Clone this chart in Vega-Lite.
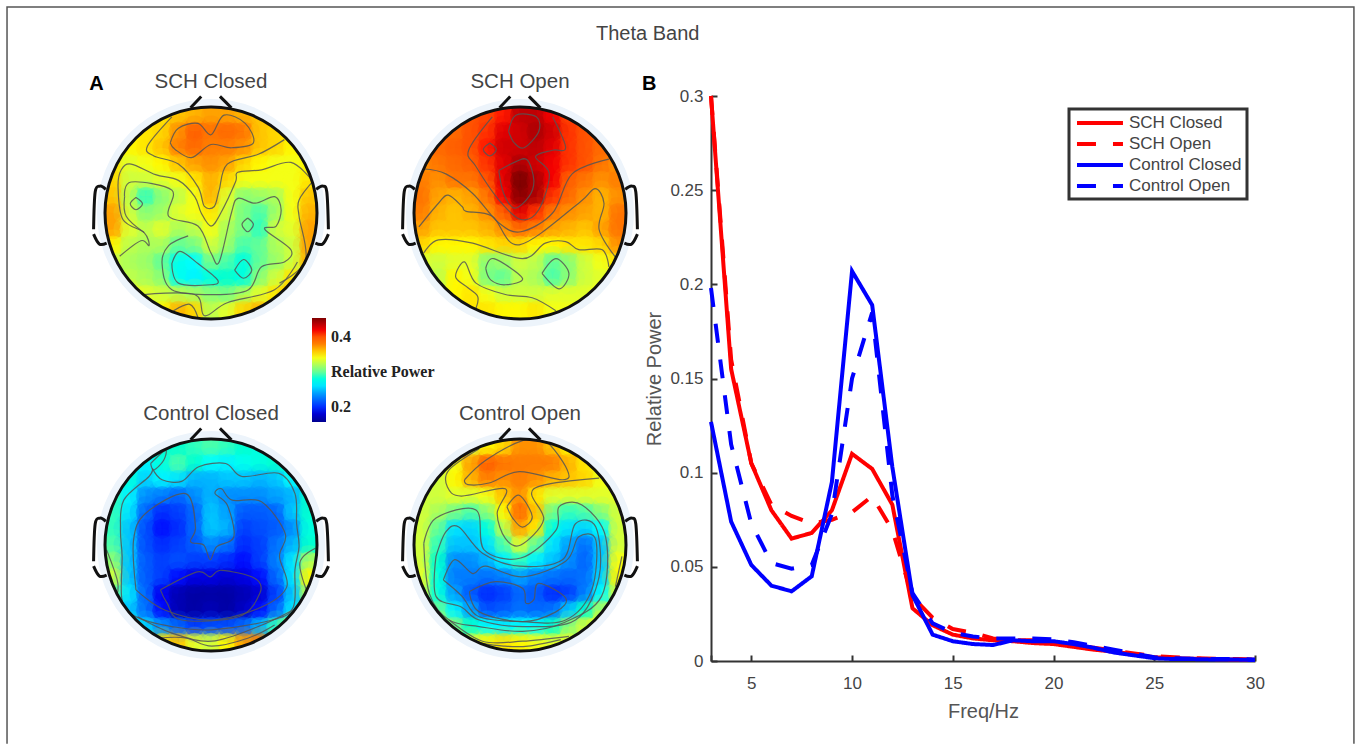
{"$schema":"https://vega.github.io/schema/vega-lite/v6.json","padding":{"left":4,"top":3,"right":0,"bottom":0},"background":"white","config":{"view":{"stroke":null},"font":"Liberation Sans","legend":{"strokeWidth":3}},
"title":{"text":"Theta Band","anchor":"start","frame":"group","fontSize":20,"fontWeight":"normal","color":"#444","dx":491,"offset":-40},
"datasets":{
"a":[{"x":-3,"y":6,"v":0.35},{"x":-2,"y":6,"v":0.36},{"x":-1,"y":6,"v":0.365},{"x":0,"y":6,"v":0.37},{"x":1,"y":6,"v":0.37},{"x":2,"y":6,"v":0.365},{"x":3,"y":6,"v":0.36},
{"x":-5,"y":5,"v":0.345},{"x":-4,"y":5,"v":0.35},{"x":-3,"y":5,"v":0.355},{"x":-2,"y":5,"v":0.375},{"x":-1,"y":5,"v":0.395},{"x":0,"y":5,"v":0.385},{"x":1,"y":5,"v":0.39},{"x":2,"y":5,"v":0.385},{"x":3,"y":5,"v":0.36},{"x":4,"y":5,"v":0.355},{"x":5,"y":5,"v":0.35},
{"x":-5,"y":4,"v":0.345},{"x":-4,"y":4,"v":0.35},{"x":-3,"y":4,"v":0.36},{"x":-2,"y":4,"v":0.38},{"x":-1,"y":4,"v":0.39},{"x":0,"y":4,"v":0.38},{"x":1,"y":4,"v":0.38},{"x":2,"y":4,"v":0.375},{"x":3,"y":4,"v":0.36},{"x":4,"y":4,"v":0.355},{"x":5,"y":4,"v":0.345},
{"x":-6,"y":3,"v":0.35},{"x":-5,"y":3,"v":0.335},{"x":-4,"y":3,"v":0.34},{"x":-3,"y":3,"v":0.345},{"x":-2,"y":3,"v":0.36},{"x":-1,"y":3,"v":0.37},{"x":0,"y":3,"v":0.375},{"x":1,"y":3,"v":0.37},{"x":2,"y":3,"v":0.355},{"x":3,"y":3,"v":0.345},{"x":4,"y":3,"v":0.34},{"x":5,"y":3,"v":0.34},{"x":6,"y":3,"v":0.345},
{"x":-6,"y":2,"v":0.355},{"x":-5,"y":2,"v":0.33},{"x":-4,"y":2,"v":0.33},{"x":-3,"y":2,"v":0.335},{"x":-2,"y":2,"v":0.34},{"x":-1,"y":2,"v":0.35},{"x":0,"y":2,"v":0.365},{"x":1,"y":2,"v":0.355},{"x":2,"y":2,"v":0.34},{"x":3,"y":2,"v":0.34},{"x":4,"y":2,"v":0.34},{"x":5,"y":2,"v":0.34},{"x":6,"y":2,"v":0.35},
{"x":-6,"y":1,"v":0.36},{"x":-5,"y":1,"v":0.325},{"x":-4,"y":1,"v":0.29},{"x":-3,"y":1,"v":0.31},{"x":-2,"y":1,"v":0.325},{"x":-1,"y":1,"v":0.34},{"x":0,"y":1,"v":0.365},{"x":1,"y":1,"v":0.335},{"x":2,"y":1,"v":0.31},{"x":3,"y":1,"v":0.315},{"x":4,"y":1,"v":0.32},{"x":5,"y":1,"v":0.34},{"x":6,"y":1,"v":0.36},
{"x":-6,"y":0,"v":0.37},{"x":-5,"y":0,"v":0.33},{"x":-4,"y":0,"v":0.31},{"x":-3,"y":0,"v":0.315},{"x":-2,"y":0,"v":0.335},{"x":-1,"y":0,"v":0.34},{"x":0,"y":0,"v":0.35},{"x":1,"y":0,"v":0.33},{"x":2,"y":0,"v":0.305},{"x":3,"y":0,"v":0.295},{"x":4,"y":0,"v":0.315},{"x":5,"y":0,"v":0.34},{"x":6,"y":0,"v":0.365},
{"x":-6,"y":-1,"v":0.37},{"x":-5,"y":-1,"v":0.335},{"x":-4,"y":-1,"v":0.325},{"x":-3,"y":-1,"v":0.335},{"x":-2,"y":-1,"v":0.32},{"x":-1,"y":-1,"v":0.325},{"x":0,"y":-1,"v":0.34},{"x":1,"y":-1,"v":0.32},{"x":2,"y":-1,"v":0.305},{"x":3,"y":-1,"v":0.29},{"x":4,"y":-1,"v":0.33},{"x":5,"y":-1,"v":0.335},{"x":6,"y":-1,"v":0.37},
{"x":-6,"y":-2,"v":0.345},{"x":-5,"y":-2,"v":0.325},{"x":-4,"y":-2,"v":0.32},{"x":-3,"y":-2,"v":0.32},{"x":-2,"y":-2,"v":0.3},{"x":-1,"y":-2,"v":0.305},{"x":0,"y":-2,"v":0.33},{"x":1,"y":-2,"v":0.315},{"x":2,"y":-2,"v":0.295},{"x":3,"y":-2,"v":0.3},{"x":4,"y":-2,"v":0.32},{"x":5,"y":-2,"v":0.33},{"x":6,"y":-2,"v":0.37},
{"x":-6,"y":-3,"v":0.33},{"x":-5,"y":-3,"v":0.32},{"x":-4,"y":-3,"v":0.315},{"x":-3,"y":-3,"v":0.3},{"x":-2,"y":-3,"v":0.275},{"x":-1,"y":-3,"v":0.27},{"x":0,"y":-3,"v":0.305},{"x":1,"y":-3,"v":0.295},{"x":2,"y":-3,"v":0.28},{"x":3,"y":-3,"v":0.3},{"x":4,"y":-3,"v":0.315},{"x":5,"y":-3,"v":0.33},{"x":6,"y":-3,"v":0.365},
{"x":-5,"y":-4,"v":0.325},{"x":-4,"y":-4,"v":0.32},{"x":-3,"y":-4,"v":0.31},{"x":-2,"y":-4,"v":0.275},{"x":-1,"y":-4,"v":0.265},{"x":0,"y":-4,"v":0.28},{"x":1,"y":-4,"v":0.285},{"x":2,"y":-4,"v":0.28},{"x":3,"y":-4,"v":0.31},{"x":4,"y":-4,"v":0.33},{"x":5,"y":-4,"v":0.35},
{"x":-5,"y":-5,"v":0.345},{"x":-4,"y":-5,"v":0.335},{"x":-3,"y":-5,"v":0.33},{"x":-2,"y":-5,"v":0.325},{"x":-1,"y":-5,"v":0.32},{"x":0,"y":-5,"v":0.31},{"x":1,"y":-5,"v":0.305},{"x":2,"y":-5,"v":0.32},{"x":3,"y":-5,"v":0.335},{"x":4,"y":-5,"v":0.35},{"x":5,"y":-5,"v":0.37},
{"x":-3,"y":-6,"v":0.345},{"x":-2,"y":-6,"v":0.365},{"x":-1,"y":-6,"v":0.355},{"x":0,"y":-6,"v":0.325},{"x":1,"y":-6,"v":0.335},{"x":2,"y":-6,"v":0.355},{"x":3,"y":-6,"v":0.365}],
"b":[{"x":-3,"y":6,"v":0.4},{"x":-2,"y":6,"v":0.405},{"x":-1,"y":6,"v":0.415},{"x":0,"y":6,"v":0.435},{"x":1,"y":6,"v":0.435},{"x":2,"y":6,"v":0.42},{"x":3,"y":6,"v":0.405},
{"x":-5,"y":5,"v":0.385},{"x":-4,"y":5,"v":0.39},{"x":-3,"y":5,"v":0.4},{"x":-2,"y":5,"v":0.41},{"x":-1,"y":5,"v":0.425},{"x":0,"y":5,"v":0.43},{"x":1,"y":5,"v":0.44},{"x":2,"y":5,"v":0.43},{"x":3,"y":5,"v":0.41},{"x":4,"y":5,"v":0.4},{"x":5,"y":5,"v":0.39},
{"x":-5,"y":4,"v":0.39},{"x":-4,"y":4,"v":0.395},{"x":-3,"y":4,"v":0.4},{"x":-2,"y":4,"v":0.415},{"x":-1,"y":4,"v":0.43},{"x":0,"y":4,"v":0.43},{"x":1,"y":4,"v":0.435},{"x":2,"y":4,"v":0.425},{"x":3,"y":4,"v":0.41},{"x":4,"y":4,"v":0.4},{"x":5,"y":4,"v":0.39},
{"x":-6,"y":3,"v":0.375},{"x":-5,"y":3,"v":0.385},{"x":-4,"y":3,"v":0.39},{"x":-3,"y":3,"v":0.395},{"x":-2,"y":3,"v":0.41},{"x":-1,"y":3,"v":0.425},{"x":0,"y":3,"v":0.44},{"x":1,"y":3,"v":0.43},{"x":2,"y":3,"v":0.42},{"x":3,"y":3,"v":0.41},{"x":4,"y":3,"v":0.4},{"x":5,"y":3,"v":0.385},{"x":6,"y":3,"v":0.375},
{"x":-6,"y":2,"v":0.38},{"x":-5,"y":2,"v":0.375},{"x":-4,"y":2,"v":0.385},{"x":-3,"y":2,"v":0.385},{"x":-2,"y":2,"v":0.4},{"x":-1,"y":2,"v":0.425},{"x":0,"y":2,"v":0.455},{"x":1,"y":2,"v":0.44},{"x":2,"y":2,"v":0.42},{"x":3,"y":2,"v":0.395},{"x":4,"y":2,"v":0.385},{"x":5,"y":2,"v":0.375},{"x":6,"y":2,"v":0.38},
{"x":-6,"y":1,"v":0.385},{"x":-5,"y":1,"v":0.37},{"x":-4,"y":1,"v":0.365},{"x":-3,"y":1,"v":0.37},{"x":-2,"y":1,"v":0.385},{"x":-1,"y":1,"v":0.42},{"x":0,"y":1,"v":0.45},{"x":1,"y":1,"v":0.44},{"x":2,"y":1,"v":0.41},{"x":3,"y":1,"v":0.39},{"x":4,"y":1,"v":0.375},{"x":5,"y":1,"v":0.365},{"x":6,"y":1,"v":0.375},
{"x":-6,"y":0,"v":0.38},{"x":-5,"y":0,"v":0.365},{"x":-4,"y":0,"v":0.36},{"x":-3,"y":0,"v":0.365},{"x":-2,"y":0,"v":0.375},{"x":-1,"y":0,"v":0.395},{"x":0,"y":0,"v":0.425},{"x":1,"y":0,"v":0.41},{"x":2,"y":0,"v":0.385},{"x":3,"y":0,"v":0.375},{"x":4,"y":0,"v":0.37},{"x":5,"y":0,"v":0.365},{"x":6,"y":0,"v":0.385},
{"x":-6,"y":-1,"v":0.37},{"x":-5,"y":-1,"v":0.36},{"x":-4,"y":-1,"v":0.36},{"x":-3,"y":-1,"v":0.36},{"x":-2,"y":-1,"v":0.365},{"x":-1,"y":-1,"v":0.375},{"x":0,"y":-1,"v":0.39},{"x":1,"y":-1,"v":0.38},{"x":2,"y":-1,"v":0.37},{"x":3,"y":-1,"v":0.365},{"x":4,"y":-1,"v":0.36},{"x":5,"y":-1,"v":0.37},{"x":6,"y":-1,"v":0.385},
{"x":-6,"y":-2,"v":0.355},{"x":-5,"y":-2,"v":0.345},{"x":-4,"y":-2,"v":0.345},{"x":-3,"y":-2,"v":0.345},{"x":-2,"y":-2,"v":0.35},{"x":-1,"y":-2,"v":0.355},{"x":0,"y":-2,"v":0.355},{"x":1,"y":-2,"v":0.345},{"x":2,"y":-2,"v":0.345},{"x":3,"y":-2,"v":0.35},{"x":4,"y":-2,"v":0.35},{"x":5,"y":-2,"v":0.355},{"x":6,"y":-2,"v":0.375},
{"x":-6,"y":-3,"v":0.335},{"x":-5,"y":-3,"v":0.33},{"x":-4,"y":-3,"v":0.335},{"x":-3,"y":-3,"v":0.335},{"x":-2,"y":-3,"v":0.31},{"x":-1,"y":-3,"v":0.315},{"x":0,"y":-3,"v":0.33},{"x":1,"y":-3,"v":0.325},{"x":2,"y":-3,"v":0.3},{"x":3,"y":-3,"v":0.31},{"x":4,"y":-3,"v":0.33},{"x":5,"y":-3,"v":0.34},{"x":6,"y":-3,"v":0.35},
{"x":-5,"y":-4,"v":0.325},{"x":-4,"y":-4,"v":0.345},{"x":-3,"y":-4,"v":0.34},{"x":-2,"y":-4,"v":0.305},{"x":-1,"y":-4,"v":0.3},{"x":0,"y":-4,"v":0.325},{"x":1,"y":-4,"v":0.32},{"x":2,"y":-4,"v":0.295},{"x":3,"y":-4,"v":0.31},{"x":4,"y":-4,"v":0.33},{"x":5,"y":-4,"v":0.335},
{"x":-5,"y":-5,"v":0.335},{"x":-4,"y":-5,"v":0.345},{"x":-3,"y":-5,"v":0.35},{"x":-2,"y":-5,"v":0.34},{"x":-1,"y":-5,"v":0.33},{"x":0,"y":-5,"v":0.33},{"x":1,"y":-5,"v":0.33},{"x":2,"y":-5,"v":0.335},{"x":3,"y":-5,"v":0.335},{"x":4,"y":-5,"v":0.335},{"x":5,"y":-5,"v":0.34},
{"x":-3,"y":-6,"v":0.35},{"x":-2,"y":-6,"v":0.35},{"x":-1,"y":-6,"v":0.345},{"x":0,"y":-6,"v":0.345},{"x":1,"y":-6,"v":0.35},{"x":2,"y":-6,"v":0.34},{"x":3,"y":-6,"v":0.34}],
"c":[{"x":-3,"y":6,"v":0.285},{"x":-2,"y":6,"v":0.285},{"x":-1,"y":6,"v":0.29},{"x":0,"y":6,"v":0.295},{"x":1,"y":6,"v":0.29},{"x":2,"y":6,"v":0.285},{"x":3,"y":6,"v":0.28},
{"x":-5,"y":5,"v":0.275},{"x":-4,"y":5,"v":0.265},{"x":-3,"y":5,"v":0.28},{"x":-2,"y":5,"v":0.295},{"x":-1,"y":5,"v":0.285},{"x":0,"y":5,"v":0.27},{"x":1,"y":5,"v":0.265},{"x":2,"y":5,"v":0.275},{"x":3,"y":5,"v":0.28},{"x":4,"y":5,"v":0.285},{"x":5,"y":5,"v":0.29},
{"x":-5,"y":4,"v":0.28},{"x":-4,"y":4,"v":0.255},{"x":-3,"y":4,"v":0.265},{"x":-2,"y":4,"v":0.26},{"x":-1,"y":4,"v":0.245},{"x":0,"y":4,"v":0.245},{"x":1,"y":4,"v":0.25},{"x":2,"y":4,"v":0.25},{"x":3,"y":4,"v":0.245},{"x":4,"y":4,"v":0.25},{"x":5,"y":4,"v":0.27},
{"x":-6,"y":3,"v":0.29},{"x":-5,"y":3,"v":0.265},{"x":-4,"y":3,"v":0.235},{"x":-3,"y":3,"v":0.23},{"x":-2,"y":3,"v":0.22},{"x":-1,"y":3,"v":0.235},{"x":0,"y":3,"v":0.245},{"x":1,"y":3,"v":0.235},{"x":2,"y":3,"v":0.235},{"x":3,"y":3,"v":0.235},{"x":4,"y":3,"v":0.24},{"x":5,"y":3,"v":0.245},{"x":6,"y":3,"v":0.285},
{"x":-6,"y":2,"v":0.29},{"x":-5,"y":2,"v":0.26},{"x":-4,"y":2,"v":0.22},{"x":-3,"y":2,"v":0.2},{"x":-2,"y":2,"v":0.205},{"x":-1,"y":2,"v":0.22},{"x":0,"y":2,"v":0.25},{"x":1,"y":2,"v":0.24},{"x":2,"y":2,"v":0.215},{"x":3,"y":2,"v":0.215},{"x":4,"y":2,"v":0.22},{"x":5,"y":2,"v":0.25},{"x":6,"y":2,"v":0.285},
{"x":-6,"y":1,"v":0.29},{"x":-5,"y":1,"v":0.25},{"x":-4,"y":1,"v":0.21},{"x":-3,"y":1,"v":0.195},{"x":-2,"y":1,"v":0.2},{"x":-1,"y":1,"v":0.22},{"x":0,"y":1,"v":0.25},{"x":1,"y":1,"v":0.245},{"x":2,"y":1,"v":0.205},{"x":3,"y":1,"v":0.21},{"x":4,"y":1,"v":0.215},{"x":5,"y":1,"v":0.235},{"x":6,"y":1,"v":0.28},
{"x":-6,"y":0,"v":0.295},{"x":-5,"y":0,"v":0.25},{"x":-4,"y":0,"v":0.21},{"x":-3,"y":0,"v":0.2},{"x":-2,"y":0,"v":0.205},{"x":-1,"y":0,"v":0.215},{"x":0,"y":0,"v":0.235},{"x":1,"y":0,"v":0.225},{"x":2,"y":0,"v":0.2},{"x":3,"y":0,"v":0.205},{"x":4,"y":0,"v":0.225},{"x":5,"y":0,"v":0.245},{"x":6,"y":0,"v":0.285},
{"x":-6,"y":-1,"v":0.31},{"x":-5,"y":-1,"v":0.25},{"x":-4,"y":-1,"v":0.215},{"x":-3,"y":-1,"v":0.205},{"x":-2,"y":-1,"v":0.21},{"x":-1,"y":-1,"v":0.205},{"x":0,"y":-1,"v":0.205},{"x":1,"y":-1,"v":0.2},{"x":2,"y":-1,"v":0.195},{"x":3,"y":-1,"v":0.205},{"x":4,"y":-1,"v":0.23},{"x":5,"y":-1,"v":0.26},{"x":6,"y":-1,"v":0.32},
{"x":-6,"y":-2,"v":0.33},{"x":-5,"y":-2,"v":0.25},{"x":-4,"y":-2,"v":0.215},{"x":-3,"y":-2,"v":0.205},{"x":-2,"y":-2,"v":0.195},{"x":-1,"y":-2,"v":0.185},{"x":0,"y":-2,"v":0.185},{"x":1,"y":-2,"v":0.18},{"x":2,"y":-2,"v":0.185},{"x":3,"y":-2,"v":0.195},{"x":4,"y":-2,"v":0.22},{"x":5,"y":-2,"v":0.26},{"x":6,"y":-2,"v":0.345},
{"x":-6,"y":-3,"v":0.3},{"x":-5,"y":-3,"v":0.26},{"x":-4,"y":-3,"v":0.22},{"x":-3,"y":-3,"v":0.19},{"x":-2,"y":-3,"v":0.17},{"x":-1,"y":-3,"v":0.165},{"x":0,"y":-3,"v":0.165},{"x":1,"y":-3,"v":0.165},{"x":2,"y":-3,"v":0.17},{"x":3,"y":-3,"v":0.18},{"x":4,"y":-3,"v":0.205},{"x":5,"y":-3,"v":0.25},{"x":6,"y":-3,"v":0.32},
{"x":-5,"y":-4,"v":0.25},{"x":-4,"y":-4,"v":0.225},{"x":-3,"y":-4,"v":0.195},{"x":-2,"y":-4,"v":0.17},{"x":-1,"y":-4,"v":0.165},{"x":0,"y":-4,"v":0.17},{"x":1,"y":-4,"v":0.165},{"x":2,"y":-4,"v":0.175},{"x":3,"y":-4,"v":0.195},{"x":4,"y":-4,"v":0.22},{"x":5,"y":-4,"v":0.26},
{"x":-5,"y":-5,"v":0.28},{"x":-4,"y":-5,"v":0.255},{"x":-3,"y":-5,"v":0.235},{"x":-2,"y":-5,"v":0.22},{"x":-1,"y":-5,"v":0.205},{"x":0,"y":-5,"v":0.21},{"x":1,"y":-5,"v":0.21},{"x":2,"y":-5,"v":0.22},{"x":3,"y":-5,"v":0.245},{"x":4,"y":-5,"v":0.29},{"x":5,"y":-5,"v":0.33},
{"x":-3,"y":-6,"v":0.35},{"x":-2,"y":-6,"v":0.36},{"x":-1,"y":-6,"v":0.335},{"x":0,"y":-6,"v":0.33},{"x":1,"y":-6,"v":0.345},{"x":2,"y":-6,"v":0.37},{"x":3,"y":-6,"v":0.38}],
"d":[{"x":-3,"y":6,"v":0.335},{"x":-2,"y":6,"v":0.345},{"x":-1,"y":6,"v":0.355},{"x":0,"y":6,"v":0.375},{"x":1,"y":6,"v":0.375},{"x":2,"y":6,"v":0.36},{"x":3,"y":6,"v":0.345},
{"x":-5,"y":5,"v":0.33},{"x":-4,"y":5,"v":0.34},{"x":-3,"y":5,"v":0.37},{"x":-2,"y":5,"v":0.395},{"x":-1,"y":5,"v":0.385},{"x":0,"y":5,"v":0.38},{"x":1,"y":5,"v":0.38},{"x":2,"y":5,"v":0.38},{"x":3,"y":5,"v":0.365},{"x":4,"y":5,"v":0.35},{"x":5,"y":5,"v":0.335},
{"x":-5,"y":4,"v":0.33},{"x":-4,"y":4,"v":0.345},{"x":-3,"y":4,"v":0.365},{"x":-2,"y":4,"v":0.38},{"x":-1,"y":4,"v":0.375},{"x":0,"y":4,"v":0.38},{"x":1,"y":4,"v":0.375},{"x":2,"y":4,"v":0.365},{"x":3,"y":4,"v":0.36},{"x":4,"y":4,"v":0.355},{"x":5,"y":4,"v":0.34},
{"x":-6,"y":3,"v":0.33},{"x":-5,"y":3,"v":0.33},{"x":-4,"y":3,"v":0.335},{"x":-3,"y":3,"v":0.335},{"x":-2,"y":3,"v":0.34},{"x":-1,"y":3,"v":0.36},{"x":0,"y":3,"v":0.375},{"x":1,"y":3,"v":0.35},{"x":2,"y":3,"v":0.335},{"x":3,"y":3,"v":0.335},{"x":4,"y":3,"v":0.335},{"x":5,"y":3,"v":0.335},{"x":6,"y":3,"v":0.335},
{"x":-6,"y":2,"v":0.33},{"x":-5,"y":2,"v":0.32},{"x":-4,"y":2,"v":0.305},{"x":-3,"y":2,"v":0.295},{"x":-2,"y":2,"v":0.31},{"x":-1,"y":2,"v":0.345},{"x":0,"y":2,"v":0.39},{"x":1,"y":2,"v":0.36},{"x":2,"y":2,"v":0.305},{"x":3,"y":2,"v":0.29},{"x":4,"y":2,"v":0.295},{"x":5,"y":2,"v":0.31},{"x":6,"y":2,"v":0.33},
{"x":-6,"y":1,"v":0.33},{"x":-5,"y":1,"v":0.3},{"x":-4,"y":1,"v":0.26},{"x":-3,"y":1,"v":0.255},{"x":-2,"y":1,"v":0.28},{"x":-1,"y":1,"v":0.325},{"x":0,"y":1,"v":0.37},{"x":1,"y":1,"v":0.35},{"x":2,"y":1,"v":0.28},{"x":3,"y":1,"v":0.26},{"x":4,"y":1,"v":0.255},{"x":5,"y":1,"v":0.27},{"x":6,"y":1,"v":0.33},
{"x":-6,"y":0,"v":0.33},{"x":-5,"y":0,"v":0.29},{"x":-4,"y":0,"v":0.25},{"x":-3,"y":0,"v":0.25},{"x":-2,"y":0,"v":0.26},{"x":-1,"y":0,"v":0.295},{"x":0,"y":0,"v":0.335},{"x":1,"y":0,"v":0.3},{"x":2,"y":0,"v":0.26},{"x":3,"y":0,"v":0.24},{"x":4,"y":0,"v":0.225},{"x":5,"y":0,"v":0.25},{"x":6,"y":0,"v":0.33},
{"x":-6,"y":-1,"v":0.33},{"x":-5,"y":-1,"v":0.285},{"x":-4,"y":-1,"v":0.235},{"x":-3,"y":-1,"v":0.235},{"x":-2,"y":-1,"v":0.245},{"x":-1,"y":-1,"v":0.265},{"x":0,"y":-1,"v":0.29},{"x":1,"y":-1,"v":0.265},{"x":2,"y":-1,"v":0.25},{"x":3,"y":-1,"v":0.235},{"x":4,"y":-1,"v":0.22},{"x":5,"y":-1,"v":0.25},{"x":6,"y":-1,"v":0.34},
{"x":-6,"y":-2,"v":0.335},{"x":-5,"y":-2,"v":0.28},{"x":-4,"y":-2,"v":0.23},{"x":-3,"y":-2,"v":0.23},{"x":-2,"y":-2,"v":0.225},{"x":-1,"y":-2,"v":0.23},{"x":0,"y":-2,"v":0.24},{"x":1,"y":-2,"v":0.23},{"x":2,"y":-2,"v":0.225},{"x":3,"y":-2,"v":0.22},{"x":4,"y":-2,"v":0.225},{"x":5,"y":-2,"v":0.255},{"x":6,"y":-2,"v":0.345},
{"x":-6,"y":-3,"v":0.33},{"x":-5,"y":-3,"v":0.28},{"x":-4,"y":-3,"v":0.24},{"x":-3,"y":-3,"v":0.215},{"x":-2,"y":-3,"v":0.2},{"x":-1,"y":-3,"v":0.205},{"x":0,"y":-3,"v":0.22},{"x":1,"y":-3,"v":0.215},{"x":2,"y":-3,"v":0.2},{"x":3,"y":-3,"v":0.205},{"x":4,"y":-3,"v":0.23},{"x":5,"y":-3,"v":0.27},{"x":6,"y":-3,"v":0.33},
{"x":-5,"y":-4,"v":0.3},{"x":-4,"y":-4,"v":0.265},{"x":-3,"y":-4,"v":0.24},{"x":-2,"y":-4,"v":0.21},{"x":-1,"y":-4,"v":0.215},{"x":0,"y":-4,"v":0.225},{"x":1,"y":-4,"v":0.22},{"x":2,"y":-4,"v":0.225},{"x":3,"y":-4,"v":0.25},{"x":4,"y":-4,"v":0.285},{"x":5,"y":-4,"v":0.32},
{"x":-5,"y":-5,"v":0.33},{"x":-4,"y":-5,"v":0.305},{"x":-3,"y":-5,"v":0.285},{"x":-2,"y":-5,"v":0.27},{"x":-1,"y":-5,"v":0.265},{"x":0,"y":-5,"v":0.27},{"x":1,"y":-5,"v":0.27},{"x":2,"y":-5,"v":0.285},{"x":3,"y":-5,"v":0.31},{"x":4,"y":-5,"v":0.33},{"x":5,"y":-5,"v":0.345},
{"x":-3,"y":-6,"v":0.335},{"x":-2,"y":-6,"v":0.345},{"x":-1,"y":-6,"v":0.35},{"x":0,"y":-6,"v":0.345},{"x":1,"y":-6,"v":0.34},{"x":2,"y":-6,"v":0.335},{"x":3,"y":-6,"v":0.335}],
"ca":[{"c":1,"x":-2.5,"y":4.3},{"c":1,"x":-2,"y":5.2},{"c":1,"x":-0.8,"y":5.5},{"c":1,"x":0,"y":4.8},{"c":1,"x":0.8,"y":6},{"c":1,"x":2.1,"y":5.5},{"c":1,"x":2.6,"y":4.3},{"c":1,"x":1.25,"y":4},{"c":1,"x":0,"y":4.2},{"c":1,"x":-1.2,"y":3.4},{"c":1,"x":-2.2,"y":3.9},{"c":1,"x":-2.5,"y":4.3},
{"c":2,"x":-2.4,"y":5.9},{"c":2,"x":-3.9,"y":4.1},{"c":2,"x":-3.5,"y":3.5},{"c":2,"x":-2,"y":3},{"c":2,"x":-0.8,"y":1.6},{"c":2,"x":-0.4,"y":0.4},{"c":2,"x":0.2,"y":0.4},{"c":2,"x":0.5,"y":1.4},{"c":2,"x":1,"y":3},{"c":2,"x":2.9,"y":3.6},{"c":2,"x":4.5,"y":4.5},
{"c":3,"x":-5.6,"y":-2.65},{"c":3,"x":-4.3,"y":-1.7},{"c":3,"x":-3.8,"y":-2},{"c":3,"x":-4.1,"y":-1.2},{"c":3,"x":-5.4,"y":-0.4},{"c":3,"x":-5.7,"y":1.6},{"c":3,"x":-5.5,"y":2.65},{"c":3,"x":-4.9,"y":3},{"c":3,"x":-3.4,"y":2.35},{"c":3,"x":-2,"y":2},{"c":3,"x":-1,"y":1},{"c":3,"x":-0.6,"y":0},{"c":3,"x":0,"y":-0.8},{"c":3,"x":0.6,"y":0},{"c":3,"x":1.5,"y":1.9},{"c":3,"x":1.65,"y":2.5},{"c":3,"x":3.1,"y":2.65},{"c":3,"x":4.9,"y":3.1},{"c":3,"x":6.2,"y":2},
{"c":4,"x":-5.3,"y":1},{"c":4,"x":-4.9,"y":1.9},{"c":4,"x":-2.4,"y":1.4},{"c":4,"x":-2.6,"y":-0.2},{"c":4,"x":-0.8,"y":-0.8},{"c":4,"x":0,"y":-2.45},{"c":4,"x":0.5,"y":-3},{"c":4,"x":1.25,"y":0},{"c":4,"x":1.65,"y":0.9},{"c":4,"x":2.7,"y":0.6},{"c":4,"x":3.9,"y":1},{"c":4,"x":4.3,"y":0.2},{"c":4,"x":4,"y":-0.8},{"c":4,"x":3.3,"y":-1},{"c":4,"x":4.9,"y":-2.25},{"c":4,"x":4.5,"y":-3},{"c":4,"x":3.1,"y":-3.3},{"c":4,"x":2.3,"y":-4.7},{"c":4,"x":0.2,"y":-5},{"c":4,"x":-2.4,"y":-4.7},{"c":4,"x":-3,"y":-3.1},{"c":4,"x":-2.6,"y":-2},{"c":4,"x":-1.4,"y":-1.4},
{"c":5,"x":-5.3,"y":1},{"c":5,"x":-5.2,"y":-0.2},{"c":5,"x":-4.1,"y":-1.2},
{"c":6,"x":-2.4,"y":-3.1},{"c":6,"x":-1.9,"y":-2.35},{"c":6,"x":-0.8,"y":-3.1},{"c":6,"x":0.4,"y":-4.1},{"c":6,"x":0,"y":-4.4},{"c":6,"x":-2,"y":-4.3},{"c":6,"x":-2.4,"y":-3.1},
{"c":7,"x":1.45,"y":-3.5},{"c":7,"x":2,"y":-2.85},{"c":7,"x":2.5,"y":-3.5},{"c":7,"x":2,"y":-4},{"c":7,"x":1.45,"y":-3.5},
{"c":8,"x":-4.6,"y":0.95},{"c":8,"x":-4.2,"y":0.57},{"c":8,"x":-4.6,"y":0.2},{"c":8,"x":-4.95,"y":0.57},{"c":8,"x":-4.6,"y":0.95},
{"c":9,"x":2.25,"y":-0.3},{"c":9,"x":2.6,"y":-0.7},{"c":9,"x":2.25,"y":-1.15},{"c":9,"x":1.9,"y":-0.7},{"c":9,"x":2.25,"y":-0.3},
{"c":10,"x":4.2,"y":-4.3},{"c":10,"x":5.8,"y":-2.9},{"c":10,"x":5.4,"y":-0.2},{"c":10,"x":5.4,"y":0.8},{"c":10,"x":6.3,"y":2},
{"c":11,"x":-4.1,"y":-5},{"c":11,"x":-1,"y":-5},{"c":11,"x":-0.4,"y":-6.3},{"c":11,"x":1,"y":-5.5},{"c":11,"x":3.9,"y":-4.7},{"c":11,"x":5.3,"y":-3},
{"c":12,"x":-2.3,"y":-6},{"c":12,"x":-1.3,"y":-5.6},{"c":12,"x":-0.8,"y":-6.4}],
"cb":[{"c":1,"x":-0.7,"y":5},{"c":1,"x":-0.25,"y":6},{"c":1,"x":1,"y":5.9},{"c":1,"x":1.15,"y":5},{"c":1,"x":0.25,"y":4},{"c":1,"x":-0.35,"y":4.3},{"c":1,"x":-0.7,"y":5},
{"c":2,"x":-1.3,"y":2.6},{"c":2,"x":-0.25,"y":3.15},{"c":2,"x":0.45,"y":3.25},{"c":2,"x":0.85,"y":2},{"c":2,"x":0.55,"y":1},{"c":2,"x":-0.35,"y":0.3},{"c":2,"x":-1,"y":1.2},{"c":2,"x":-1.3,"y":2.6},
{"c":3,"x":-1.85,"y":4.3},{"c":3,"x":-1.45,"y":3.9},{"c":3,"x":-1.85,"y":3.5},{"c":3,"x":-2.25,"y":3.9},{"c":3,"x":-1.85,"y":4.3},
{"c":4,"x":-1.7,"y":5.9},{"c":4,"x":-3.15,"y":3.85},{"c":4,"x":-2.7,"y":2.85},{"c":4,"x":-1.3,"y":0.8},{"c":4,"x":0.05,"y":-0.4},{"c":4,"x":1.15,"y":0.2},{"c":4,"x":1.8,"y":2.4},{"c":4,"x":0.95,"y":3.45},{"c":4,"x":2,"y":3.85},{"c":4,"x":2.8,"y":4},{"c":4,"x":2,"y":5.9},
{"c":5,"x":-5.9,"y":2.7},{"c":5,"x":-4.55,"y":2.4},{"c":5,"x":-2.9,"y":1.2},{"c":5,"x":-1.3,"y":-0.6},{"c":5,"x":0.05,"y":-1.15},{"c":5,"x":2,"y":0},{"c":5,"x":3.2,"y":2.4},{"c":5,"x":5.45,"y":3.3},
{"c":6,"x":-6.2,"y":-0.85},{"c":6,"x":-5,"y":0.6},{"c":6,"x":-4.4,"y":1.1},{"c":6,"x":-3.55,"y":0.4},{"c":6,"x":-3.3,"y":0.1},{"c":6,"x":-1.7,"y":-0.2},{"c":6,"x":-0.05,"y":-1.95},{"c":6,"x":3.6,"y":0.6},{"c":6,"x":4.6,"y":1.5},{"c":6,"x":5.15,"y":0.6},{"c":6,"x":4.85,"y":-1},{"c":6,"x":5.85,"y":-2.7},
{"c":7,"x":-5.9,"y":-2.45},{"c":7,"x":-5,"y":-1.65},{"c":7,"x":-2.9,"y":-1.85},{"c":7,"x":0.15,"y":-2.8},{"c":7,"x":1.55,"y":-1.85},{"c":7,"x":2.8,"y":-1.75},{"c":7,"x":3.6,"y":-2.25},{"c":7,"x":5.05,"y":-2.25},{"c":7,"x":5.45,"y":-3.3},
{"c":8,"x":-2.7,"y":-5.85},{"c":8,"x":-2.6,"y":-5.1},{"c":8,"x":-3.3,"y":-4.5},{"c":8,"x":-3.95,"y":-3.9},{"c":8,"x":-3.4,"y":-3},{"c":8,"x":-2.7,"y":-4.3},{"c":8,"x":-0.9,"y":-5},{"c":8,"x":0.75,"y":-5.2},{"c":8,"x":2.2,"y":-6},
{"c":9,"x":-2.1,"y":-3.4},{"c":9,"x":-1.6,"y":-2.8},{"c":9,"x":0.15,"y":-4},{"c":9,"x":-0.9,"y":-4.4},{"c":9,"x":-1.8,"y":-4.1},{"c":9,"x":-2.1,"y":-3.4},
{"c":10,"x":1.35,"y":-3.7},{"c":10,"x":2.2,"y":-2.8},{"c":10,"x":3,"y":-3.7},{"c":10,"x":2.4,"y":-4.65},{"c":10,"x":1.35,"y":-3.7}],
"cc":[{"c":1,"x":-3.6,"y":4.7},{"c":1,"x":-3,"y":4},{"c":1,"x":-1.8,"y":3.9},{"c":1,"x":-0.75,"y":4.8},{"c":1,"x":0.9,"y":5},{"c":1,"x":1.9,"y":4.2},{"c":1,"x":4.15,"y":4.4},{"c":1,"x":5.15,"y":3.15},{"c":1,"x":5.25,"y":1.3},{"c":1,"x":5.4,"y":-0.1},{"c":1,"x":5.15,"y":-1.5},{"c":1,"x":5.05,"y":-3.8},{"c":1,"x":3.75,"y":-4.6},{"c":1,"x":0.05,"y":-5.2},{"c":1,"x":-2.4,"y":-5},{"c":1,"x":-4.6,"y":-4.4},{"c":1,"x":-5.45,"y":-3.4},{"c":1,"x":-5.45,"y":-0.7},{"c":1,"x":-5.55,"y":0.9},{"c":1,"x":-5.35,"y":2.75},{"c":1,"x":-3.8,"y":4.2},{"c":1,"x":-3.6,"y":4.7},
{"c":2,"x":-4.6,"y":-2.75},{"c":2,"x":-4.75,"y":0.3},{"c":2,"x":-4,"y":1.95},{"c":2,"x":-1.55,"y":3.15},{"c":2,"x":-0.95,"y":1.1},{"c":2,"x":-1.25,"y":0.2},{"c":2,"x":-0.45,"y":0},{"c":2,"x":-0.05,"y":-0.9},{"c":2,"x":0.35,"y":-0.1},{"c":2,"x":1.4,"y":0.5},{"c":2,"x":1,"y":2.45},{"c":2,"x":0.25,"y":3.15},{"c":2,"x":0.65,"y":3.45},{"c":2,"x":1.3,"y":2.75},{"c":2,"x":3.1,"y":2.65},{"c":2,"x":4.55,"y":0.7},{"c":2,"x":4.2,"y":-0.7},{"c":2,"x":4.65,"y":-2.55},{"c":2,"x":3.1,"y":-3.8},{"c":2,"x":0.05,"y":-4.6},{"c":2,"x":-2.8,"y":-4},{"c":2,"x":-4.6,"y":-2.75},
{"c":3,"x":-3.1,"y":-2.75},{"c":3,"x":-0.85,"y":-1.65},{"c":3,"x":-0.05,"y":-1.95},{"c":3,"x":0.65,"y":-1.55},{"c":3,"x":2.7,"y":-2.05},{"c":3,"x":3,"y":-2.95},{"c":3,"x":1.7,"y":-4.4},{"c":3,"x":-1.8,"y":-4.6},{"c":3,"x":-2.7,"y":-3.55},{"c":3,"x":-3.1,"y":-2.75},
{"c":4,"x":-4.5,"y":-4.4},{"c":4,"x":-2.4,"y":-5.4},{"c":4,"x":0.05,"y":-5.9},{"c":4,"x":2.9,"y":-5},{"c":4,"x":5,"y":-4},
{"c":5,"x":-3.2,"y":-5.7},{"c":5,"x":-1.55,"y":-5.7},{"c":5,"x":0.05,"y":-6.2},{"c":5,"x":2.3,"y":-5.7},{"c":5,"x":3.9,"y":-4.9},
{"c":6,"x":6.4,"y":-0.2},{"c":6,"x":5.45,"y":-1.1},{"c":6,"x":6,"y":-3.15},
{"c":7,"x":-6.4,"y":-0.3},{"c":7,"x":-5.75,"y":-2.15},{"c":7,"x":-5.75,"y":-3},
{"c":8,"x":-3.7,"y":5},{"c":8,"x":-2.8,"y":5.8},{"c":8,"x":-2.9,"y":5.2},{"c":8,"x":-3.5,"y":4.6},{"c":8,"x":-3.7,"y":5}],
"cd":[{"c":1,"x":-3.4,"y":4},{"c":1,"x":-2.1,"y":5.2},{"c":1,"x":0.15,"y":6.4},{"c":1,"x":1.55,"y":6.4},{"c":1,"x":2.9,"y":4.6},{"c":1,"x":2.6,"y":4},{"c":1,"x":-0.05,"y":4.5},{"c":1,"x":-1.9,"y":3.8},{"c":1,"x":-3.2,"y":3.7},{"c":1,"x":-3.4,"y":4},
{"c":2,"x":-2.5,"y":5.9},{"c":2,"x":-4.35,"y":4.6},{"c":2,"x":-4.45,"y":3.55},{"c":2,"x":-3.6,"y":3},{"c":2,"x":-0.9,"y":3.45},{"c":2,"x":-1.4,"y":1.95},{"c":2,"x":-0.9,"y":0.4},{"c":2,"x":0.05,"y":0},{"c":2,"x":1.45,"y":1.55},{"c":2,"x":0.85,"y":3.45},{"c":2,"x":4.85,"y":4.1},
{"c":3,"x":-0.8,"y":2.35},{"c":3,"x":-0.05,"y":3.05},{"c":3,"x":0.75,"y":1.75},{"c":3,"x":0.15,"y":1.1},{"c":3,"x":-0.45,"y":1.65},{"c":3,"x":-0.8,"y":2.35},
{"c":4,"x":-5.9,"y":0.1},{"c":4,"x":-5.15,"y":1.65},{"c":4,"x":-2.7,"y":2.15},{"c":4,"x":-2.2,"y":-0.3},{"c":4,"x":0.05,"y":-0.8},{"c":4,"x":2.2,"y":0.9},{"c":4,"x":2.4,"y":2.35},{"c":4,"x":3.8,"y":2.45},{"c":4,"x":5.25,"y":0.5},{"c":4,"x":5,"y":-3.15},{"c":4,"x":2.6,"y":-4.8},{"c":4,"x":0.15,"y":-5.3},{"c":4,"x":-2.5,"y":-5},{"c":4,"x":-4.35,"y":-4.6},{"c":4,"x":-5.55,"y":-3},{"c":4,"x":-5.9,"y":0.1},
{"c":5,"x":-5.15,"y":-0.7},{"c":5,"x":-4.55,"y":0.8},{"c":5,"x":-3.75,"y":1.1},{"c":5,"x":-2.3,"y":-0.5},{"c":5,"x":-0.05,"y":-1.3},{"c":5,"x":2.6,"y":-0.9},{"c":5,"x":3.4,"y":1.3},{"c":5,"x":4.65,"y":1.1},{"c":5,"x":4.85,"y":-1.95},{"c":5,"x":3.4,"y":-4.6},{"c":5,"x":0.15,"y":-5},{"c":5,"x":-2.5,"y":-4.6},{"c":5,"x":-3.6,"y":-3.8},{"c":5,"x":-5.15,"y":-3.15},{"c":5,"x":-5.15,"y":-0.7},
{"c":6,"x":-4.7,"y":-2.15},{"c":6,"x":-4,"y":-0.9},{"c":6,"x":-2.9,"y":-1.75},{"c":6,"x":-2.1,"y":-1.3},{"c":6,"x":0.15,"y":-1.95},{"c":6,"x":2.8,"y":-1},{"c":6,"x":3.6,"y":0.5},{"c":6,"x":4.65,"y":0.3},{"c":6,"x":4.4,"y":-2.75},{"c":6,"x":2.8,"y":-4.6},{"c":6,"x":0.15,"y":-4.7},{"c":6,"x":-2.5,"y":-4.4},{"c":6,"x":-3.55,"y":-3.15},{"c":6,"x":-4.7,"y":-2.15},
{"c":7,"x":-3.1,"y":-2.85},{"c":7,"x":-1.5,"y":-2.25},{"c":7,"x":0.15,"y":-2.65},{"c":7,"x":0.35,"y":-3.55},{"c":7,"x":0.85,"y":-3.35},{"c":7,"x":1.15,"y":-2.35},{"c":7,"x":2.8,"y":-3.25},{"c":7,"x":2.2,"y":-4.1},{"c":7,"x":0.15,"y":-4.7},{"c":7,"x":-2.5,"y":-4.1},{"c":7,"x":-3.1,"y":-2.85},
{"c":8,"x":-4.35,"y":-4.6},{"c":8,"x":-2.3,"y":-5.9},{"c":8,"x":0.15,"y":-5.9},{"c":8,"x":3,"y":-5.6},
{"c":9,"x":-2.5,"y":-6},{"c":9,"x":-1,"y":-6.2},{"c":9,"x":0.5,"y":-6.2},{"c":9,"x":2.5,"y":-5.8},
{"c":10,"x":5.85,"y":-2.55},{"c":10,"x":6.25,"y":-0.7}],
"center":[{"x":0,"y":0}],
"head":[{"c":"n1","x":-1.25,"y":6.45},{"c":"n1","x":-0.6,"y":7.15},{"c":"n2","x":1.25,"y":6.45},{"c":"n2","x":0.55,"y":7.15},
{"c":"l1","x":-6.45,"y":1.45},{"c":"l1","x":-6.8,"y":1.65},{"c":"l1","x":-7.1,"y":1.3},{"c":"l1","x":-7.2,"y":-1},{"c":"l2","x":-7.2,"y":-1.3},{"c":"l2","x":-6.85,"y":-1.9},{"c":"l2","x":-6.4,"y":-1.85},
{"c":"r1","x":6.45,"y":1.45},{"c":"r1","x":6.85,"y":1.65},{"c":"r1","x":7.1,"y":1.3},{"c":"r1","x":7.2,"y":-1},{"c":"r2","x":7.2,"y":-1.3},{"c":"r2","x":6.85,"y":-1.9},{"c":"r2","x":6.4,"y":-1.85}],
"lines":[{"f":3,"p":0.3,"s":"SCH Closed"},{"f":4,"p":0.155,"s":"SCH Closed"},{"f":5,"p":0.105,"s":"SCH Closed"},{"f":6,"p":0.08,"s":"SCH Closed"},{"f":7,"p":0.065,"s":"SCH Closed"},{"f":8,"p":0.068,"s":"SCH Closed"},{"f":9,"p":0.08,"s":"SCH Closed"},{"f":10,"p":0.11,"s":"SCH Closed"},{"f":11,"p":0.102,"s":"SCH Closed"},{"f":12,"p":0.083,"s":"SCH Closed"},{"f":13,"p":0.028,"s":"SCH Closed"},{"f":14,"p":0.019,"s":"SCH Closed"},{"f":15,"p":0.014,"s":"SCH Closed"},{"f":16,"p":0.012,"s":"SCH Closed"},{"f":17,"p":0.011,"s":"SCH Closed"},{"f":18,"p":0.0105,"s":"SCH Closed"},{"f":19,"p":0.0095,"s":"SCH Closed"},{"f":20,"p":0.009,"s":"SCH Closed"},{"f":21,"p":0.0075,"s":"SCH Closed"},{"f":22,"p":0.006,"s":"SCH Closed"},{"f":23,"p":0.005,"s":"SCH Closed"},{"f":24,"p":0.0035,"s":"SCH Closed"},{"f":25,"p":0.002,"s":"SCH Closed"},{"f":26,"p":0.0015,"s":"SCH Closed"},{"f":27,"p":0.0012,"s":"SCH Closed"},{"f":28,"p":0.001,"s":"SCH Closed"},{"f":29,"p":0.0008,"s":"SCH Closed"},{"f":30,"p":0.0006,"s":"SCH Closed"},
{"f":3,"p":0.3,"s":"SCH Open"},{"f":4,"p":0.16,"s":"SCH Open"},{"f":5,"p":0.105,"s":"SCH Open"},{"f":6,"p":0.083,"s":"SCH Open"},{"f":7,"p":0.077,"s":"SCH Open"},{"f":8,"p":0.073,"s":"SCH Open"},{"f":9,"p":0.075,"s":"SCH Open"},{"f":10,"p":0.079,"s":"SCH Open"},{"f":11,"p":0.0875,"s":"SCH Open"},{"f":12,"p":0.0695,"s":"SCH Open"},{"f":13,"p":0.034,"s":"SCH Open"},{"f":14,"p":0.023,"s":"SCH Open"},{"f":15,"p":0.017,"s":"SCH Open"},{"f":16,"p":0.015,"s":"SCH Open"},{"f":17,"p":0.012,"s":"SCH Open"},{"f":18,"p":0.011,"s":"SCH Open"},{"f":19,"p":0.011,"s":"SCH Open"},{"f":20,"p":0.01,"s":"SCH Open"},{"f":21,"p":0.0085,"s":"SCH Open"},{"f":22,"p":0.007,"s":"SCH Open"},{"f":23,"p":0.0055,"s":"SCH Open"},{"f":24,"p":0.004,"s":"SCH Open"},{"f":25,"p":0.0025,"s":"SCH Open"},{"f":26,"p":0.002,"s":"SCH Open"},{"f":27,"p":0.0015,"s":"SCH Open"},{"f":28,"p":0.0012,"s":"SCH Open"},{"f":29,"p":0.001,"s":"SCH Open"},{"f":30,"p":0.0008,"s":"SCH Open"},
{"f":3,"p":0.127,"s":"Control Closed"},{"f":4,"p":0.074,"s":"Control Closed"},{"f":5,"p":0.051,"s":"Control Closed"},{"f":6,"p":0.04,"s":"Control Closed"},{"f":7,"p":0.037,"s":"Control Closed"},{"f":8,"p":0.045,"s":"Control Closed"},{"f":9,"p":0.095,"s":"Control Closed"},{"f":10,"p":0.207,"s":"Control Closed"},{"f":11,"p":0.189,"s":"Control Closed"},{"f":12,"p":0.103,"s":"Control Closed"},{"f":13,"p":0.035,"s":"Control Closed"},{"f":14,"p":0.014,"s":"Control Closed"},{"f":15,"p":0.0105,"s":"Control Closed"},{"f":16,"p":0.009,"s":"Control Closed"},{"f":17,"p":0.0085,"s":"Control Closed"},{"f":18,"p":0.011,"s":"Control Closed"},{"f":19,"p":0.0105,"s":"Control Closed"},{"f":20,"p":0.0105,"s":"Control Closed"},{"f":21,"p":0.009,"s":"Control Closed"},{"f":22,"p":0.007,"s":"Control Closed"},{"f":23,"p":0.0045,"s":"Control Closed"},{"f":24,"p":0.003,"s":"Control Closed"},{"f":25,"p":0.0015,"s":"Control Closed"},{"f":26,"p":0.001,"s":"Control Closed"},{"f":27,"p":0.001,"s":"Control Closed"},{"f":28,"p":0.0008,"s":"Control Closed"},{"f":29,"p":0.0008,"s":"Control Closed"},{"f":30,"p":0.0005,"s":"Control Closed"},
{"f":3,"p":0.198,"s":"Control Open"},{"f":4,"p":0.115,"s":"Control Open"},{"f":5,"p":0.073,"s":"Control Open"},{"f":6,"p":0.052,"s":"Control Open"},{"f":7,"p":0.049,"s":"Control Open"},{"f":8,"p":0.051,"s":"Control Open"},{"f":9,"p":0.078,"s":"Control Open"},{"f":10,"p":0.15,"s":"Control Open"},{"f":11,"p":0.185,"s":"Control Open"},{"f":12,"p":0.088,"s":"Control Open"},{"f":13,"p":0.036,"s":"Control Open"},{"f":14,"p":0.02,"s":"Control Open"},{"f":15,"p":0.015,"s":"Control Open"},{"f":16,"p":0.013,"s":"Control Open"},{"f":17,"p":0.012,"s":"Control Open"},{"f":18,"p":0.012,"s":"Control Open"},{"f":19,"p":0.012,"s":"Control Open"},{"f":20,"p":0.0115,"s":"Control Open"},{"f":21,"p":0.01,"s":"Control Open"},{"f":22,"p":0.008,"s":"Control Open"},{"f":23,"p":0.006,"s":"Control Open"},{"f":24,"p":0.004,"s":"Control Open"},{"f":25,"p":0.002,"s":"Control Open"},{"f":26,"p":0.0015,"s":"Control Open"},{"f":27,"p":0.0012,"s":"Control Open"},{"f":28,"p":0.001,"s":"Control Open"},{"f":29,"p":0.001,"s":"Control Open"},{"f":30,"p":0.0008,"s":"Control Open"}],
"frame":[{"o":1,"f":-31.94,"p":-0.044},{"o":2,"f":-31.94,"p":0.3473},{"o":3,"f":34.91,"p":0.3473},{"o":4,"f":34.91,"p":-0.044}]},
"bounds":"flush","columns":3,"spacing":{"row":120,"column":97},
"concat":[
{"width":212,"height":223,"title":{"text":"SCH Closed","fontSize":20.5,"fontWeight":"normal","color":"#444","offset":-55},
"encoding":{"x":{"field":"x","type":"quantitative","scale":{"domain":[-6.5,6.5],"nice":false,"zero":false},"axis":{"orient":"top","title":"A","domain":false,"ticks":false,"labels":false,"grid":false,"titleX":-9,"titleY":-3,"titleFontSize":20,"titleFontWeight":"bold","titleColor":"black"}},"y":{"field":"y","type":"quantitative","scale":{"domain":[-6.5,7.175],"nice":false,"zero":false},"axis":null}},
"layer":[
{"data":{"name":"a"},"mark":{"type":"point","shape":"square","filled":true,"size":289,"opacity":1},"encoding":{"fill":{"field":"v","type":"quantitative","scale":{"domain":[0.157,0.194,0.231,0.269,0.306,0.343,0.38,0.417,0.454],"range":["#00008f","#0000ff","#007fff","#00ffff","#7fff7f","#ffff00","#ff7f00","#ff0000","#7f0000"]},"legend":{"orient":"none","legendX":207,"legendY":222,"title":null,"values":[0.2,0.3,0.4],"gradientLength":104,"gradientThickness":14,"labelFont":"Liberation Serif","labelFontSize":16,"labelFontWeight":"bold","labelColor":"#222","labelOffset":5,"labelOverlap":false,"labelExpr":"datum.value==0.3?'Relative Power':format(datum.value,'.1f')"}}}},
{"data":{"name":"a"},"mark":{"type":"circle","size":1024,"opacity":0.3},"encoding":{"fill":{"field":"v","type":"quantitative","legend":null}}},
{"data":{"name":"a"},"mark":{"type":"circle","size":400,"opacity":0.45},"encoding":{"fill":{"field":"v","type":"quantitative","legend":null}}},
{"data":{"name":"ca"},"transform":[{"window":[{"op":"row_number","as":"o"}]}],"mark":{"type":"line","stroke":"#555","strokeWidth":1.2,"interpolate":"cardinal","opacity":0.85},"encoding":{"detail":{"field":"c"},"order":{"field":"o"}}},
{"data":{"name":"center"},"mark":{"type":"point","filled":false,"size":57600,"stroke":"white","strokeWidth":28,"opacity":1}},
{"data":{"name":"center"},"mark":{"type":"point","filled":false,"size":48400,"stroke":"#edf4fb","strokeWidth":8,"opacity":1}},
{"data":{"name":"center"},"mark":{"type":"point","filled":false,"size":44944,"stroke":"#111","strokeWidth":3,"opacity":1}},
{"data":{"name":"head"},"transform":[{"window":[{"op":"row_number","as":"o"}]}],"mark":{"type":"line","stroke":"#111","strokeWidth":3,"interpolate":"cardinal","opacity":1},"encoding":{"detail":{"field":"c"},"order":{"field":"o"}}}
]},
{"width":200,"height":223,"title":{"text":"SCH Open","dx":6,"fontSize":20.5,"fontWeight":"normal","color":"#444","offset":-55},
"encoding":{"x":{"field":"x","type":"quantitative","scale":{"domain":[-6.5,6.5],"range":[0,212],"nice":false,"zero":false},"axis":null},"y":{"field":"y","type":"quantitative","scale":{"domain":[-6.5,7.175],"nice":false,"zero":false},"axis":null}},
"layer":[
{"data":{"name":"b"},"mark":{"type":"point","shape":"square","filled":true,"size":289,"opacity":1},"encoding":{"fill":{"field":"v","type":"quantitative","legend":null}}},
{"data":{"name":"b"},"mark":{"type":"circle","size":1024,"opacity":0.3},"encoding":{"fill":{"field":"v","type":"quantitative","legend":null}}},
{"data":{"name":"b"},"mark":{"type":"circle","size":400,"opacity":0.45},"encoding":{"fill":{"field":"v","type":"quantitative","legend":null}}},
{"data":{"name":"cb"},"transform":[{"window":[{"op":"row_number","as":"o"}]}],"mark":{"type":"line","stroke":"#555","strokeWidth":1.2,"interpolate":"cardinal","opacity":0.85},"encoding":{"detail":{"field":"c"},"order":{"field":"o"}}},
{"data":{"name":"center"},"mark":{"type":"point","filled":false,"size":57600,"stroke":"white","strokeWidth":28,"opacity":1}},
{"data":{"name":"center"},"mark":{"type":"point","filled":false,"size":48400,"stroke":"#edf4fb","strokeWidth":8,"opacity":1}},
{"data":{"name":"center"},"mark":{"type":"point","filled":false,"size":44944,"stroke":"#111","strokeWidth":3,"opacity":1}},
{"data":{"name":"head"},"transform":[{"window":[{"op":"row_number","as":"o"}]}],"mark":{"type":"line","stroke":"#111","strokeWidth":3,"interpolate":"cardinal","opacity":1},"encoding":{"detail":{"field":"c"},"order":{"field":"o"}}}
]},
{"width":544,"height":223,"title":{"text":"B","anchor":"start","frame":"group","dx":-69,"offset":-90,"fontSize":20,"fontWeight":"bold","color":"black"},
"encoding":{"x":{"field":"f","type":"quantitative","scale":{"domain":[3,30],"nice":false,"zero":false},"axis":{"offset":342,"values":[3,5,10,15,20,25,30],"labelExpr":"datum.value==3?'':datum.label","labelFlush":false,"title":"Freq/Hz","titleFontSize":20,"titleFontWeight":"normal","titleColor":"#555","labelFontSize":17,"labelColor":"#444","domainColor":"#333","domainWidth":2,"tickColor":"#333","tickWidth":2,"tickSize":-6,"labelPadding":20,"titlePadding":10,"grid":false}},
"y":{"field":"p","type":"quantitative","scale":{"domain":[0,0.3],"range":[565,0],"nice":false,"zero":false},"axis":{"values":[0,0.05,0.1,0.15,0.2,0.25,0.3],"format":".2~f","labelFlush":false,"title":"Relative Power","titleFontSize":20,"titleFontWeight":"normal","titleColor":"#555","labelFontSize":17,"labelColor":"#444","domainColor":"#333","domainWidth":2,"tickColor":"#333","tickWidth":2,"tickSize":-6,"labelPadding":14,"titlePadding":5,"grid":false}}},
"layer":[
{"data":{"name":"frame"},"mark":{"type":"line","stroke":"#555","strokeWidth":1.5},"encoding":{"order":{"field":"o"}}},
{"data":{"name":"lines"},"mark":{"type":"line","strokeWidth":4},"encoding":{"stroke":{"field":"s","type":"nominal","scale":{"domain":["SCH Closed","SCH Open","Control Closed","Control Open"],"range":["#ff0000","#ff0000","#0000ff","#0000ff"]},"legend":{"orient":"none","legendX":964,"legendY":13,"title":null,"fillColor":"white","strokeColor":"#333","padding":5,"symbolType":"M-0.86,0H5.71","symbolSize":196,"symbolStrokeWidth":4,"labelFontSize":17,"labelColor":"#444","labelOffset":37,"rowPadding":4}},"strokeDash":{"field":"s","type":"nominal","scale":{"domain":["SCH Closed","SCH Open","Control Closed","Control Open"],"range":[[1,0],[19,17],[1,0],[19,17]]},"legend":{"orient":"none","legendX":964,"legendY":13,"title":null}}}}
]},
{"width":212,"height":212,"title":{"text":"Control Closed","fontSize":20.5,"fontWeight":"normal","color":"#444","offset":-55},
"encoding":{"x":{"field":"x","type":"quantitative","scale":{"domain":[-6.5,6.5],"nice":false,"zero":false},"axis":null},"y":{"field":"y","type":"quantitative","scale":{"domain":[-6.5,6.5],"nice":false,"zero":false},"axis":null}},
"layer":[
{"data":{"name":"c"},"mark":{"type":"point","shape":"square","filled":true,"size":289,"opacity":1},"encoding":{"fill":{"field":"v","type":"quantitative","legend":null}}},
{"data":{"name":"c"},"mark":{"type":"circle","size":1024,"opacity":0.3},"encoding":{"fill":{"field":"v","type":"quantitative","legend":null}}},
{"data":{"name":"c"},"mark":{"type":"circle","size":400,"opacity":0.45},"encoding":{"fill":{"field":"v","type":"quantitative","legend":null}}},
{"data":{"name":"cc"},"transform":[{"window":[{"op":"row_number","as":"o"}]}],"mark":{"type":"line","stroke":"#555","strokeWidth":1.2,"interpolate":"cardinal","opacity":0.85},"encoding":{"detail":{"field":"c"},"order":{"field":"o"}}},
{"data":{"name":"center"},"mark":{"type":"point","filled":false,"size":57600,"stroke":"white","strokeWidth":28,"opacity":1}},
{"data":{"name":"center"},"mark":{"type":"point","filled":false,"size":48400,"stroke":"#edf4fb","strokeWidth":8,"opacity":1}},
{"data":{"name":"center"},"mark":{"type":"point","filled":false,"size":44944,"stroke":"#111","strokeWidth":3,"opacity":1}},
{"data":{"name":"head"},"transform":[{"window":[{"op":"row_number","as":"o"}]}],"mark":{"type":"line","stroke":"#111","strokeWidth":3,"interpolate":"cardinal","opacity":1},"encoding":{"detail":{"field":"c"},"order":{"field":"o"}}}
]},
{"width":200,"height":212,"title":{"text":"Control Open","dx":6,"fontSize":20.5,"fontWeight":"normal","color":"#444","offset":-55},
"encoding":{"x":{"field":"x","type":"quantitative","scale":{"domain":[-6.5,6.5],"range":[0,212],"nice":false,"zero":false},"axis":null},"y":{"field":"y","type":"quantitative","scale":{"domain":[-6.5,6.5],"nice":false,"zero":false},"axis":null}},
"layer":[
{"data":{"name":"d"},"mark":{"type":"point","shape":"square","filled":true,"size":289,"opacity":1},"encoding":{"fill":{"field":"v","type":"quantitative","legend":null}}},
{"data":{"name":"d"},"mark":{"type":"circle","size":1024,"opacity":0.3},"encoding":{"fill":{"field":"v","type":"quantitative","legend":null}}},
{"data":{"name":"d"},"mark":{"type":"circle","size":400,"opacity":0.45},"encoding":{"fill":{"field":"v","type":"quantitative","legend":null}}},
{"data":{"name":"cd"},"transform":[{"window":[{"op":"row_number","as":"o"}]}],"mark":{"type":"line","stroke":"#555","strokeWidth":1.2,"interpolate":"cardinal","opacity":0.85},"encoding":{"detail":{"field":"c"},"order":{"field":"o"}}},
{"data":{"name":"center"},"mark":{"type":"point","filled":false,"size":57600,"stroke":"white","strokeWidth":28,"opacity":1}},
{"data":{"name":"center"},"mark":{"type":"point","filled":false,"size":48400,"stroke":"#edf4fb","strokeWidth":8,"opacity":1}},
{"data":{"name":"center"},"mark":{"type":"point","filled":false,"size":44944,"stroke":"#111","strokeWidth":3,"opacity":1}},
{"data":{"name":"head"},"transform":[{"window":[{"op":"row_number","as":"o"}]}],"mark":{"type":"line","stroke":"#111","strokeWidth":3,"interpolate":"cardinal","opacity":1},"encoding":{"detail":{"field":"c"},"order":{"field":"o"}}}
]}]}
